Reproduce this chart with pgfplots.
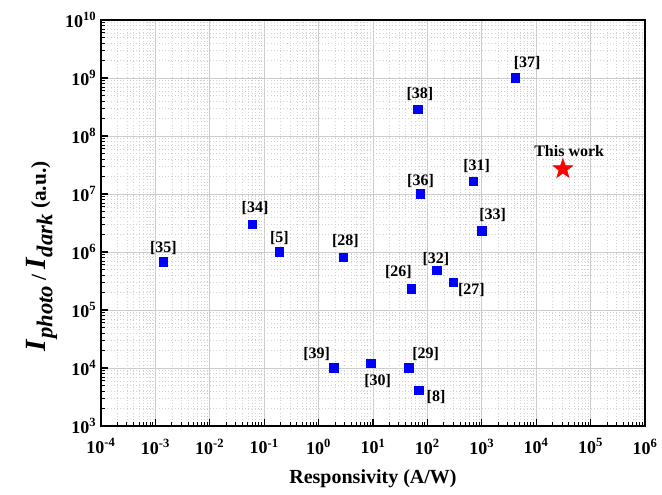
\documentclass[border=0pt]{standalone}
\usepackage{fontspec}
\setmainfont{Liberation Serif}
\usepackage{pgfplots}
\pgfplotsset{compat=1.18}
\usepackage{pgfplotstable}
\usetikzlibrary{plotmarks}

% filled five-pointed star
\pgfdeclareplotmark{fstar}{%
  \pgfpathmoveto{\pgfpointpolar{90}{\pgfplotmarksize}}%
  \pgfpathlineto{\pgfpointpolar{126}{0.4\pgfplotmarksize}}%
  \pgfpathlineto{\pgfpointpolar{162}{\pgfplotmarksize}}%
  \pgfpathlineto{\pgfpointpolar{198}{0.4\pgfplotmarksize}}%
  \pgfpathlineto{\pgfpointpolar{234}{\pgfplotmarksize}}%
  \pgfpathlineto{\pgfpointpolar{270}{0.4\pgfplotmarksize}}%
  \pgfpathlineto{\pgfpointpolar{306}{\pgfplotmarksize}}%
  \pgfpathlineto{\pgfpointpolar{342}{0.4\pgfplotmarksize}}%
  \pgfpathlineto{\pgfpointpolar{18}{\pgfplotmarksize}}%
  \pgfpathlineto{\pgfpointpolar{54}{0.4\pgfplotmarksize}}%
  \pgfpathclose
  \pgfusepathqfillstroke}

% minor ticks 2..9 in every decade
\def\minorx{2e-4}
\foreach \e in {-4,...,5}{\foreach \m in {2,...,9}{\xdef\minorx{\minorx,\m e\e}}}
\def\minory{2e3}
\foreach \e in {3,...,9}{\foreach \m in {2,...,9}{\xdef\minory{\minory,\m e\e}}}

% responsivity (A/W), on/off ratio, reference number, label offset (pt)
\pgfplotstableread{
x      y       ref dx    dy
0.0014 6.8e5   35  0     10.5
0.06   3.0e6   34  2.2   12
0.19   1.0e6   5   0     10.5
2.85   8.1e5   28  1.5   12.4
1.9    1.0e4   39  -12.8 10.5
9.1    1.2e4   30  5.2   -13.5
45     1.0e4   29  12.8  10.5
70     4.1e3   8   12.8  -5.2
51     2.3e5   26  -9.8  12.8
150    4.8e5   32  -0.8  8.8
300    3.0e5   27  13.5  -6
1000   2.3e6   33  8.2   12
74     1.0e7   36  0.2   10
700    1.65e7  31  2.5   11.6
66     2.9e8   38  1.7   11.2
4100   1.0e9   37  9     11.6
}\refs

\begin{document}
\begin{tikzpicture}
\useasboundingbox (-75.75pt,-51.75pt) rectangle (420.75pt,319.5pt);
\begin{axis}[
    scale only axis,
    width=408pt, height=304.5pt,
    xmode=log, ymode=log,
    log basis x=10, log basis y=10,
    xmin=1e-4, xmax=1e6, ymin=1e3, ymax=1e10,
    xtickten={-4,...,6}, ytickten={3,...,10},
    minor xtick/.expanded={\minorx}, minor ytick/.expanded={\minory},
    log number format basis/.code 2 args={#1\textsuperscript{\pgfmathprintnumber[assume math mode=true]{#2}}},
    ticklabel style={font=\fontsize{13.5}{14}\selectfont\bfseries},
    xticklabel style={yshift=-6pt},
    tick align=inside,
    xtick pos=bottom, ytick pos=left,
    major tick length=5pt, minor tick length=3pt,
    major tick style={black, line width=0.8pt},
    minor tick style={black, line width=0.7pt},
    grid=both,
    major grid style={gray!40, line width=0.5pt},
    minor grid style={gray!35, dotted, line width=0.4pt},
    axis line style={line width=1.1pt},
    xlabel={Responsivity (A/W)},
    xlabel style={font=\fontsize{15}{16}\selectfont\bfseries, yshift=-5pt},
    ylabel={{\fontsize{22}{22}\selectfont\textit{I}}\textit{\raisebox{-0.3em}{\fontsize{17}{17}\selectfont photo}} / {\fontsize{22}{22}\selectfont\textit{I}}\textit{\raisebox{-0.3em}{\fontsize{17}{17}\selectfont dark}} (a.u.)},
    ylabel style={font=\fontsize{16}{20}\selectfont\bfseries, xshift=-25pt, yshift=-1pt},
]
\addplot[only marks, mark=square*, mark size=3.2pt, blue,
    point meta=explicit symbolic,
    visualization depends on={\thisrow{dx} \as \dx},
    visualization depends on={\thisrow{dy} \as \dy},
    nodes near coords={[\pgfplotspointmeta]},
    nodes near coords style={anchor=center, xshift=\dx*1pt, yshift=\dy*1pt,
        text=black, font=\fontsize{12}{12}\selectfont\bfseries}]
    table[x=x, y=y, meta=ref] {\refs};
\addplot[only marks, mark=fstar, mark size=7.8pt, red,
    mark options={fill=red, draw=red},
    nodes near coords={This work},
    nodes near coords style={anchor=center, yshift=13.5pt, xshift=4.7pt,
        text=black, font=\fontsize{12}{12}\selectfont\bfseries}]
    coordinates {(3.1e4, 2.7e7)};
\end{axis}
\end{tikzpicture}
\end{document}
